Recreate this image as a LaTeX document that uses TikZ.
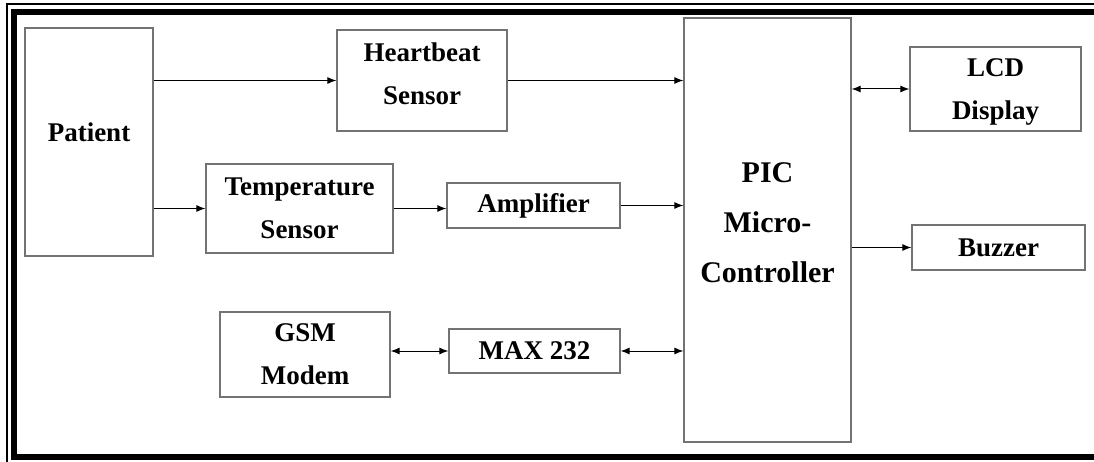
\documentclass[tikz,border=0pt]{standalone}
\usepackage{fontspec}
\setmainfont{Liberation Serif}
\usetikzlibrary{arrows.meta,positioning}

\begin{document}
\begin{tikzpicture}[x=1pt, y=-1pt,
    blk/.style={draw=black!55, line width=1.3pt, align=center, inner sep=0pt,
        font=\bfseries\fontsize{27}{43}\selectfont},
    arr/.style={-{Latex[length=9pt,width=7pt]}, line width=1pt},
    biarr/.style={{Latex[length=9pt,width=7pt]}-{Latex[length=9pt,width=7pt]}, line width=1pt}]
    \useasboundingbox (0,0) rectangle (1094,462);

    % Frame
    \draw[line width=1.5pt] (7,4) rectangle (1120,480);
    \draw[line width=6pt] (14,12) rectangle (1120,457);

    % Blocks
    \node[blk, minimum width=128, minimum height=228, text depth=20pt] (patient) at (89,142) {Patient};
    \node[blk, minimum width=170, minimum height=101, text depth=14pt] (heart) at (422,80.5) {Heartbeat\\Sensor};
    \node[blk, minimum width=187, minimum height=89] (temp) at (299.5,208.5) {Temperature\\Sensor};
    \node[blk, minimum width=173, minimum height=45] (amp) at (533.5,205.5) {Amplifier};
    \node[blk, minimum width=170, minimum height=85] (gsm) at (305,354.5) {GSM\\Modem};
    \node[blk, minimum width=171, minimum height=44] (max) at (534.5,351) {MAX 232};
    \node[blk, minimum width=167, minimum height=424, text depth=14pt,
        font=\bfseries\fontsize{30}{50}\selectfont] (pic) at (767.5,230) {PIC\\Micro-\\Controller};
    \node[blk, minimum width=171, minimum height=84, text depth=0pt] (lcd) at (995.5,89) {LCD\\Display};
    \node[blk, minimum width=173, minimum height=45] (buzzer) at (998.5,247.5) {Buzzer};

    % Connections
    \draw[arr] (patient.east |- heart.west) -- (heart.west);
    \draw[arr] (heart.east) -- (heart.east -| pic.west);
    \draw[arr] (patient.east |- temp.west) -- (temp.west);
    \draw[arr] (temp.east) -- (temp.east -| amp.west);
    \draw[arr] (amp.east) -- (amp.east -| pic.west);
    \draw[biarr] (gsm.east |- max.west) -- (max.west);
    \draw[biarr] (max.east) -- (max.east -| pic.west);
    \draw[biarr] (pic.east |- lcd.west) -- (lcd.west);
    \draw[arr] (pic.east |- buzzer.west) -- (buzzer.west);
\end{tikzpicture}
\end{document}
